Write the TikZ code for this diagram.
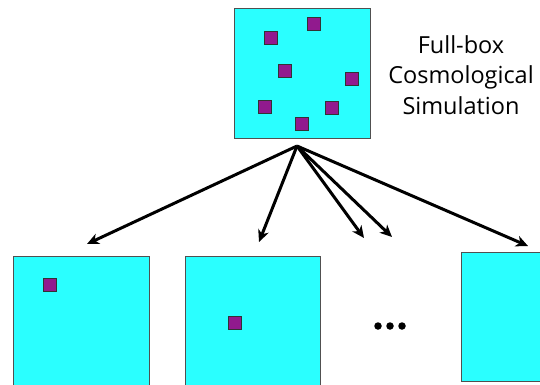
\documentclass[tikz,border=0pt]{standalone}
\usepackage{fontspec}
\setmainfont{Open Sans}
\usetikzlibrary{arrows.meta}
\definecolor{boxcyan}{RGB}{42,255,255}
\definecolor{boxedge}{RGB}{80,80,80}
\definecolor{halo}{RGB}{145,26,142}
\begin{document}
\begin{tikzpicture}[x=1pt,y=-1pt,
  simbox/.style={draw=boxedge,fill=boxcyan,line width=1.3pt,inner sep=0pt,anchor=north west},
  halobox/.style={draw=black!80,fill=halo,line width=1pt,inner sep=0pt,minimum size=13.5pt},
  link/.style={line width=3pt,-{Stealth[length=12pt,width=11pt,inset=3.5pt]}},
  dotmark/.style={circle,fill=black,inner sep=0pt,minimum size=7.5pt},
  lbl/.style={align=center,font=\fontsize{23.5}{30.5}\selectfont}]
\useasboundingbox (0,0) rectangle (540,384);
% top full box
\node[simbox,minimum width=136pt,minimum height=130pt] (full) at (234,8) {};
\foreach \x/\y [count=\i] in {314/24,271/38,285/71,352/79,265/107,332/108,302/124}
  \node[halobox] (h\i) at (\x,\y) {};
\node[lbl] (title) at (461,75) {Full-box\\Cosmological\\Simulation};
% bottom boxes
\node[simbox,minimum width=136pt,minimum height=140pt] (sub1) at (13,256) {};
\node[simbox,minimum width=135pt,minimum height=140pt] (sub2) at (185,256) {};
\node[simbox,minimum width=95pt,minimum height=129pt] (sub3) at (461,252) {};
\node[halobox] (s1) at (50,285) {};
\node[halobox] (s2) at (235,323) {};
% ellipsis
\node[dotmark] (d1) at (378,326) {};
\node[dotmark] (d2) at (390,326) {};
\node[dotmark] (d3) at (402,326) {};
% arrows
\coordinate (apex) at (297,146);
\coordinate (t1) at (87,244);
\coordinate (t2) at (259,242);
\coordinate (t3) at (364,238);
\coordinate (t4) at (392,237);
\coordinate (t5) at (528,246);
\foreach \t in {t1,t2,t3,t4,t5}
  \draw[link] (apex) -- (\t);
\end{tikzpicture}
\end{document}
